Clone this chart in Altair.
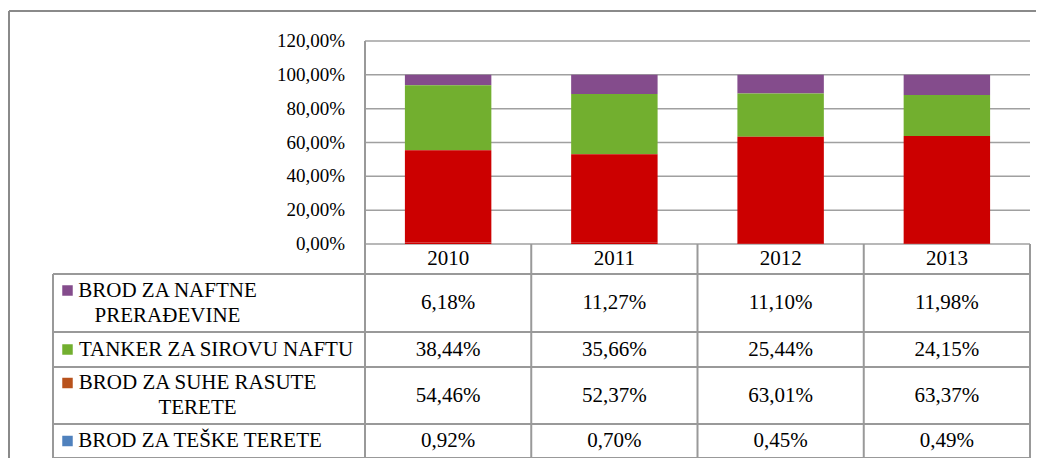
import altair as alt
import pandas as pd

# ---------------- data ----------------
YEARS = ["2010", "2011", "2012", "2013"]
SERIES = [
    "BROD ZA NAFTNE PRERAĐEVINE",
    "TANKER ZA SIROVU NAFTU",
    "BROD ZA SUHE RASUTE TERETE",
    "BROD ZA TEŠKE TERETE",
]
SERIES_LABELS = [
    "BROD ZA NAFTNE\nPRERAĐEVINE",
    "TANKER ZA SIROVU NAFTU",
    "BROD ZA SUHE RASUTE\nTERETE",
    "BROD ZA TEŠKE TERETE",
]
NAFTNE = [6.18, 11.27, 11.10, 11.98]
SIROVA = [38.44, 35.66, 25.44, 24.15]
SUHE = [54.46, 52.37, 63.01, 63.37]
TESKE = [0.92, 0.70, 0.45, 0.49]
VALUES = [NAFTNE, SIROVA, SUHE, TESKE]
STACK_ORDER = [3, 2, 1, 0]  # bottom of stack = 0
Y_TICKS = [0, 20, 40, 60, 80, 100, 120]

# ---------------- style / layout ----------------
FONT = "Liberation Serif"
BAR_COLORS = ["#844C8C", "#72AF2F", "#CC0000", "#CC0000"]
KEY_COLORS = ["#844C8C", "#72AF2F", "#B8521C", "#4F81BD"]
GRID_COLOR = "#A0A0A0"
LINE_COLOR = "#999999"
FRAME_COLOR = "#8A8A8A"

COL_PX = 166.25          # width of one year column
LABEL_PX = 312           # width of the legend column of the table
BAR_PX = 203             # height of the bar region (0..120 %)
ROW_PX = [30, 58, 35, 57, 34]   # header row + 4 table rows
PXU = BAR_PX / 120.0     # pixels per percent unit
TABLE_PX = sum(ROW_PX)
W = LABEL_PX + 4 * COL_PX
H = BAR_PX + TABLE_PX
LABEL_W = LABEL_PX / COL_PX
YMIN = -TABLE_PX / PXU
LINE_H = 25

X_SCALE = alt.Scale(domain=[-LABEL_W, 4], nice=False, zero=False)
Y_SCALE = alt.Scale(domain=[YMIN, 120], nice=False, zero=False)


def page_x(px):
    return (px - 365) / COL_PX


# row boundaries in y units (0 = zero line)
bounds = [0.0]
acc = 0
for h in ROW_PX:
    acc += h
    bounds.append(-acc / PXU)
centers = [(bounds[i] + bounds[i + 1]) / 2 for i in range(len(ROW_PX))]

LABEL_CENTER_PX = [167.5, 216, 197.5, 200]
KEY_X = page_x(67.5)

# ---------------- tables ----------------
bar_rows = []
for s, name in enumerate(SERIES):
    for i, y in enumerate(YEARS):
        bar_rows.append({"year": y, "idx": i, "series": name,
                         "value": VALUES[s][i], "order": STACK_ORDER[s],
                         "color": BAR_COLORS[s]})
bars_df = pd.DataFrame(bar_rows)

grid_df = pd.DataFrame({"y": Y_TICKS, "x": [0] * len(Y_TICKS), "x2": [4] * len(Y_TICKS)})
tick_df = pd.DataFrame({"y": Y_TICKS, "x": [0] * len(Y_TICKS),
                        "t": [f"{v:.2f}".replace(".", ",") + "%" for v in Y_TICKS]})

hl = pd.DataFrame({"y": bounds[1:], "x": [-LABEL_W] * 5, "x2": [4] * 5})
vl = pd.DataFrame({"x": [-LABEL_W, 0, 1, 2, 3, 4],
                   "y": [bounds[1], 120, bounds[0], bounds[0], bounds[0], bounds[0]],
                   "y2": [bounds[-1]] * 6})

head_df = pd.DataFrame({"x": [i + 0.5 for i in range(4)], "y": [centers[0]] * 4, "t": YEARS})

val_rows = []
for s in range(4):
    for i in range(4):
        val_rows.append({"x": i + 0.5, "y": centers[s + 1],
                         "t": f"{VALUES[s][i]:.2f}".replace(".", ",") + "%"})
val_df = pd.DataFrame(val_rows)

lab_rows = []
for s in range(4):
    nlines = SERIES_LABELS[s].count("\n") + 1
    first = centers[s + 1] + (nlines - 1) * LINE_H / 2 / PXU
    lab_rows.append({"x": page_x(LABEL_CENTER_PX[s]), "y": first,
                     "t": SERIES_LABELS[s], "kx": KEY_X, "ky": first,
                     "color": KEY_COLORS[s]})
lab_df = pd.DataFrame(lab_rows)

NOAX = dict(axis=None)

# ---------------- layers ----------------
one = pd.DataFrame({"a": [0]})
frame_left = alt.Chart(one).mark_rule(color=FRAME_COLOR, strokeWidth=2).encode(
    x=alt.value(-44), y=alt.value(-30), y2=alt.value(H + 10))
frame_top = alt.Chart(one).mark_rule(color=FRAME_COLOR, strokeWidth=2).encode(
    x=alt.value(-44), x2=alt.value(W + 20), y=alt.value(-30))

grid = alt.Chart(grid_df).mark_rule(color=GRID_COLOR, strokeWidth=1.5).encode(
    x=alt.X("x:Q", scale=X_SCALE, **NOAX), x2="x2:Q",
    y=alt.Y("y:Q", scale=Y_SCALE, **NOAX))

ticklabels = alt.Chart(tick_df).mark_text(
    font=FONT, fontSize=19, color="black", align="right", baseline="middle", dx=-20
).encode(
    x=alt.X("x:Q", scale=X_SCALE, **NOAX), y=alt.Y("y:Q", scale=Y_SCALE, **NOAX), text="t:N")

hlines = alt.Chart(hl).mark_rule(color=LINE_COLOR, strokeWidth=2).encode(
    x=alt.X("x:Q", scale=X_SCALE, **NOAX), x2="x2:Q",
    y=alt.Y("y:Q", scale=Y_SCALE, **NOAX))
vlines = alt.Chart(vl).mark_rule(color=LINE_COLOR, strokeWidth=2).encode(
    x=alt.X("x:Q", scale=X_SCALE, **NOAX),
    y=alt.Y("y:Q", scale=Y_SCALE, **NOAX), y2="y2:Q")

bars = alt.Chart(bars_df).transform_stack(
    stack="value", groupby=["year"], as_=["y0", "y1"],
    sort=[alt.SortField("order", order="ascending")]
).transform_calculate(
    x0="datum.idx + 0.24", x1="datum.idx + 0.76"
).mark_bar().encode(
    x=alt.X("x0:Q", scale=X_SCALE, **NOAX), x2="x1:Q",
    y=alt.Y("y0:Q", scale=Y_SCALE, **NOAX), y2="y1:Q",
    color=alt.Color("color:N", scale=None),
)

TXT = dict(font=FONT, fontSize=21, color="black", baseline="middle")
head = alt.Chart(head_df).mark_text(**TXT).encode(
    x=alt.X("x:Q", scale=X_SCALE, **NOAX), y=alt.Y("y:Q", scale=Y_SCALE, **NOAX), text="t:N")
vals = alt.Chart(val_df).mark_text(**TXT).encode(
    x=alt.X("x:Q", scale=X_SCALE, **NOAX), y=alt.Y("y:Q", scale=Y_SCALE, **NOAX), text="t:N")
labels = alt.Chart(lab_df).mark_text(align="center", lineBreak="\n", lineHeight=LINE_H, **TXT).encode(
    x=alt.X("x:Q", scale=X_SCALE, **NOAX), y=alt.Y("y:Q", scale=Y_SCALE, **NOAX), text="t:N")
keys = alt.Chart(lab_df).mark_square(size=110, opacity=1).encode(
    x=alt.X("kx:Q", scale=X_SCALE, **NOAX), y=alt.Y("ky:Q", scale=Y_SCALE, **NOAX),
    color=alt.Color("color:N", scale=None))

chart = alt.layer(
    frame_left, frame_top, grid, hlines, vlines, bars, ticklabels, head, vals, labels, keys
).properties(
    width=W, height=H,
    autosize=alt.AutoSizeParams(type="none"),
    padding={"left": 45, "top": 33, "right": 6, "bottom": 0},
    background="white",
).configure_view(stroke=None)

chart.save("out.html", embed_options={"renderer": "svg", "actions": False})
